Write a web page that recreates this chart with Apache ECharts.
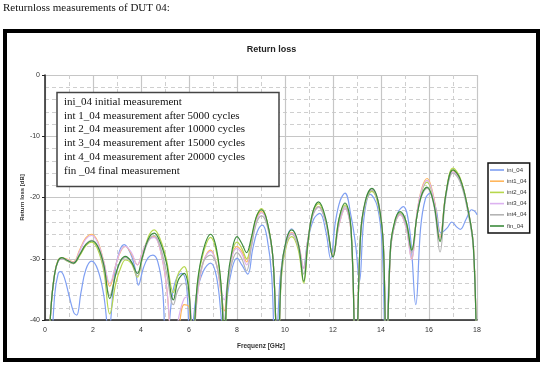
<!DOCTYPE html>
<html><head><meta charset="utf-8">
<script src="https://cdn.jsdelivr.net/npm/echarts@6/dist/echarts.min.js"></script>
<style>html,body{margin:0;padding:0;background:#fff}#c{width:543px;height:366px}</style>
</head><body><div id="c"></div>
<script>
const seriesNames = ['ini_04','int1_04','int2_04','int3_04','int4_04','fin_04'];
const xTicks = [0,2,4,6,8,10,12,14,16,18];
const annotationLines = [
  'ini_04 initial measurement',
  'int 1_04 measurement after 5000 cycles',
  'int 2_04 measurement after 10000 cycles',
  'int 3_04 measurement after 15000 cycles',
  'int 4_04 measurement after 20000 cycles',
  'fin _04 final measurement'
];
// frequencies (GHz) for the cycled measurements
const groupF = [0.12,0.25,0.4,0.55,0.7,0.9,1.18,1.45,1.7,1.95,
2.2,2.45,2.7,2.95,3.15,3.35,3.6,3.85,4.05,4.3,
4.55,4.8,5.05,5.35,5.55,5.8,6.0,6.15,6.35,6.6,
6.9,7.15,7.35,7.47,7.6,7.8,8.0,8.2,8.4,8.6,
8.8,9.02,9.25,9.5,9.7,9.85,10.05,10.28,10.55,10.78,
10.95,11.15,11.4,11.7,12.0,12.25,12.5,12.75,12.95,13.15,
13.35,13.62,13.9,14.1,14.22,14.4,14.6,14.8,15.05,15.28,
15.5,15.7,15.92,16.2,16.46,16.7,17.0,17.3,17.6,17.85,
17.98];
const fin04 = [-48,-38,-32.5,-30.3,-29.8,-30.2,-30.7,-29.3,-27.7,-27.1,
-28.0,-31.0,-36.5,-32.5,-30.3,-29.6,-30.5,-32.4,-29.8,-26.8,
-25.8,-27.3,-30.5,-36.7,-33.5,-32.4,-35.5,-45,-34,-28.5,
-26.0,-28.5,-35,-45,-34,-28.5,-26.4,-27.5,-29.0,-26.5,
-23.2,-22.0,-23.8,-30,-48,-32,-27,-25.3,-27.5,-33.7,
-27.5,-22.5,-20.7,-23.5,-29.7,-23.5,-20.9,-25,-48,-26,
-20.5,-18.5,-21,-28,-48,-28,-23.5,-22.3,-24,-28.6,
-23,-19.5,-18.3,-21,-27.2,-19.5,-15.5,-17,-21.5,-28,
-48];
const int1_04 = [-48,-38,-32.5,-30.2,-29.9,-30.0,-30.5,-28.5,-26.6,-26.0,
-27.2,-30.5,-34.5,-31,-28.8,-28.0,-29.2,-31.0,-29.0,-27.0,
-26.4,-28.5,-34,-45,-42,-37.5,-37.9,-45,-36,-30.5,
-28.6,-31,-36,-38.5,-35,-29.5,-28.0,-28.8,-30.5,-27.5,
-23.6,-22.3,-24,-30,-48,-32,-27.3,-25.7,-27.5,-31.6,
-27,-23,-21.5,-24,-29.5,-24.5,-21.8,-25.5,-48,-26,
-20.8,-18.8,-21,-28,-48,-28.5,-24,-22.8,-25,-30,
-22.5,-18.5,-16.9,-20,-26.5,-19.5,-15.6,-17,-21.5,-28,
-48];
const int2_04 = [-48,-38,-32.5,-30.3,-29.9,-30.3,-30.8,-29.5,-27.9,-27.3,
-28.5,-32,-39,-34,-31.5,-30.2,-30.8,-33,-30,-26.5,
-25.3,-26.8,-30,-35.5,-32.5,-31.3,-35,-45,-34,-29,
-26.5,-29,-35,-45,-35,-29,-27.3,-28.3,-30,-27,
-23.3,-21.8,-23.8,-30,-48,-33,-28,-26.4,-28.5,-34,
-28,-22.5,-21.0,-24,-29.5,-23.5,-21.2,-25,-48,-26,
-21,-19.0,-21.5,-28,-48,-28,-23.5,-22.5,-24,-28.5,
-23,-19,-17.5,-20.5,-27,-19.5,-15.2,-16.8,-21.5,-28,
-48];
const int3_04 = [-48,-38,-32.6,-30.4,-30.0,-30.1,-30.6,-28.7,-26.8,-26.2,
-27.4,-30.5,-34.0,-31,-28.7,-28.0,-29.0,-31.0,-29.0,-27.0,
-26.5,-28.5,-34,-45,-40,-36.5,-36.2,-45,-36,-30.5,
-28.8,-31,-35.5,-36.7,-34,-29.5,-28.3,-29.2,-31.0,-28,
-24,-22.5,-24.2,-30,-48,-32,-27.5,-25.8,-27.5,-31.6,
-27,-23,-21.6,-24,-29.6,-24.5,-21.8,-25.5,-48,-26,
-20.8,-18.6,-21,-28,-48,-28.5,-24,-22.8,-25,-30.2,
-22.5,-18.7,-17.2,-20.2,-26.8,-19.6,-15.8,-17.2,-21.5,-28,
-48];
const int4_04 = [-48,-38,-32.6,-30.4,-30.0,-30.3,-30.8,-29.2,-27.6,-27.0,
-28.0,-31.5,-36,-32.5,-30.5,-29.8,-30.5,-32.8,-30,-27.2,
-26.2,-28,-32,-37.5,-35,-34,-36.2,-45,-35,-30.5,
-29.4,-31,-35.5,-40,-35,-30.5,-29.0,-30,-32,-28,
-24.3,-23.0,-24.5,-30,-48,-32.5,-27.5,-26,-28,-32.5,
-27.5,-23,-21.5,-24,-29.7,-24,-21.5,-25.5,-48,-26,
-20.8,-18.8,-21.2,-28,-48,-28.5,-24,-22.6,-24.5,-29,
-23,-19.7,-18.5,-21.2,-28.9,-20,-16,-17.5,-22,-28.5,
-48];
// initial measurement
const iniF = [0.25,0.4,0.55,0.65,0.8,1.0,1.2,1.32,1.5,1.7,
1.94,2.2,2.45,2.65,2.9,3.1,3.3,3.55,3.75,3.89,
4.1,4.3,4.5,4.7,4.9,5.05,5.3,5.5,5.7,5.9,
6.05,6.3,6.6,6.9,7.15,7.35,7.45,7.6,7.8,8.0,
8.2,8.45,8.65,8.85,9.06,9.25,9.45,9.6,9.8,10.05,
10.28,10.5,10.76,10.95,11.2,11.45,11.7,11.9,12.1,12.3,
12.5,12.75,12.95,13.1,13.3,13.55,13.85,14.05,14.2,14.4,
14.7,14.93,15.2,15.45,15.65,15.85,16.05,16.3,16.5,16.75,
16.95,17.15,17.3,17.55,17.78,17.92,18.0];
const ini04 = [-48,-36,-32.4,-32.1,-33,-36,-38.8,-39.2,-35.5,-31.8,
-30.4,-31.8,-36,-42,-32.5,-28.8,-27.7,-29,-31.5,-34.3,
-31.5,-29.8,-29.4,-30.5,-35,-45,-36,-33,-32.4,-34.5,
-45,-36,-32,-30.7,-33,-40,-45,-36,-31.5,-29.9,
-31,-32.5,-28.5,-25.5,-24.5,-26.5,-33,-48,-33,-27,
-25.1,-27,-31.5,-27,-23.5,-22.6,-25.5,-30,-24,-20.5,
-19.3,-23,-28,-33.7,-23,-19.5,-21.5,-28,-48,-28,
-22.5,-21.5,-25.5,-37.5,-25,-20.2,-19.3,-22,-25.8,-25,
-24,-24.8,-25.2,-23.5,-22,-22.3,-22.8];

const colors = ['#7f9ff2','#ffb65c','#b6d74c','#dcb2f0','#b4b4b4','#3d8b3d'];
const zip = (f, v) => f.map((x, i) => [x, v[i]]);
const dataSets = [zip(iniF, ini04), zip(groupF, int1_04), zip(groupF, int2_04),
                  zip(groupF, int3_04), zip(groupF, int4_04), zip(groupF, fin04)];

const chart = echarts.init(document.getElementById('c'), null, {renderer: 'canvas'});
const sans = 'Liberation Sans, Arial, sans-serif';
const serif = 'Liberation Serif, Times New Roman, serif';
chart.setOption({
  animation: false,
  backgroundColor: '#fff',
  color: colors,
  title: {text: 'Return loss', left: 'center', top: 40,
    textStyle: {fontFamily: sans, fontSize: 9, fontWeight: 'bold', color: '#222'}},
  grid: {left: 45, right: 66, top: 75, bottom: 46},
  legend: {
    orient: 'vertical', left: 488, top: 163,
    data: seriesNames.map(n => ({name: n, icon: 'path://M0,0H14V1.6H0Z'})),
    backgroundColor: '#fff', borderColor: '#111', borderWidth: 1.5,
    padding: [4, 3, 4, 2], itemWidth: 14, itemHeight: 6, itemGap: 5.2,
    textStyle: {fontFamily: sans, fontSize: 6, color: '#333', padding: [0,0,0,-2]}
  },
  xAxis: {
    type: 'value', min: 0, max: 18, interval: 2,
    name: 'Frequenz [GHz]', nameLocation: 'middle', nameGap: 23,
    nameTextStyle: {fontFamily: sans, fontSize: 6.5, fontWeight: 'bold', color: '#333'},
    axisLine: {show: true, onZero: false, lineStyle: {color: '#222', width: 1.5}},
    axisTick: {show: false},
    axisLabel: {fontFamily: sans, fontSize: 7, color: '#333', margin: 7,
      formatter: v => xTicks.includes(v) ? String(v) : ''},
    splitLine: {show: true, lineStyle: {color: '#c6c6c6', width: 1.2}},
    minorTick: {show: false, splitNumber: 2},
    minorSplitLine: {show: true, lineStyle: {color: '#cfcfcf', width: 1, type: [4, 3]}}
  },
  yAxis: {
    type: 'value', min: -40, max: 0, interval: 10,
    name: 'Return loss [dB]', nameLocation: 'middle', nameGap: 20, nameMoveOverlap: false,
    nameTextStyle: {fontFamily: sans, fontSize: 6, fontWeight: 'bold', color: '#333'},
    axisLine: {show: true, onZero: false, lineStyle: {color: '#222', width: 1.5}},
    axisTick: {show: true, inside: false, length: 3, lineStyle: {color: '#222'}},
    axisLabel: {fontFamily: sans, fontSize: 7, color: '#333', margin: 5},
    splitLine: {show: true, lineStyle: {color: '#c6c6c6', width: 1.2}},
    minorTick: {show: false, splitNumber: 5},
    minorSplitLine: {show: true, lineStyle: {color: '#cfcfcf', width: 1, type: [4, 3]}}
  },
  series: seriesNames.map((n, i) => ({
    name: n, type: 'line', data: dataSets[i], smooth: 0.4,
    symbol: 'none', clip: true,
    lineStyle: {width: 1.2, color: colors[i]},
    itemStyle: {color: colors[i]}
  })),
  graphic: [
    {type: 'text', left: 3, top: 3, z: 100,
      style: {text: 'Returnloss measurements of DUT 04:', font: '11px ' + serif, fill: '#111'}},
    {type: 'rect', z: 100, shape: {x: 5, y: 31, width: 533, height: 329},
      style: {fill: null, stroke: '#000', lineWidth: 4}},
    {type: 'rect', z: 100, shape: {x: 57, y: 92.5, width: 222, height: 94},
      style: {fill: '#fff', stroke: '#444', lineWidth: 1.5}},
    {type: 'text', z: 101, left: 64, top: 95,
      style: {text: annotationLines.join('\n'), font: '11px ' + serif, lineHeight: 13.8, fill: '#111'}}
  ]
});
</script></body></html>
